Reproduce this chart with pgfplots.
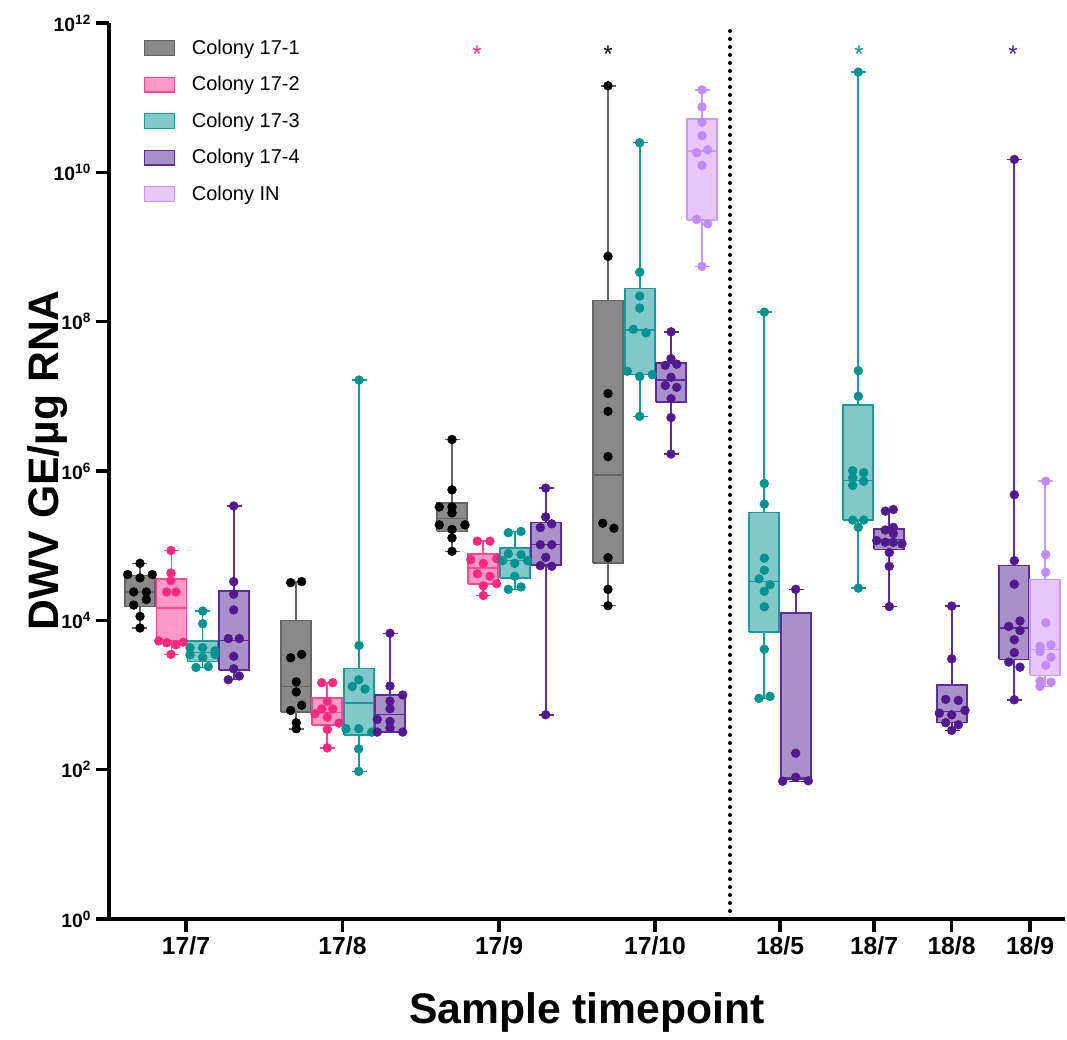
\documentclass[border=0pt]{standalone}
\usepackage{pgfplots}
\pgfplotsset{compat=1.18}
\usepackage{fontspec}
\setmainfont{Liberation Sans}
\definecolor{aF}{HTML}{898989}\definecolor{aE}{HTML}{656565}\definecolor{aP}{HTML}{000000}
\definecolor{bF}{HTML}{FF9AC8}\definecolor{bE}{HTML}{FF4A90}\definecolor{bP}{HTML}{FF2A7F}
\definecolor{cF}{HTML}{82C7C9}\definecolor{cE}{HTML}{1A9A9C}\definecolor{cP}{HTML}{009191}
\definecolor{dF}{HTML}{A890C8}\definecolor{dE}{HTML}{5E2D9C}\definecolor{dP}{HTML}{52198E}
\definecolor{eF}{HTML}{E9C7FD}\definecolor{eE}{HTML}{C89AFA}\definecolor{eP}{HTML}{C38BF9}
\pgfplotsset{legend image code/.code={\draw[#1] (0pt,-5.5pt) rectangle (22.5pt,5.5pt); \path (33pt,0pt);}}
% #1 position, #2 lower whisker, #3 lower quartile, #4 median, #5 upper quartile, #6 upper whisker, #7 fill, #8 edge
\newcommand{\bx}[8]{%
  \pgfmathsetmacro{\bxL}{#1-15}\pgfmathsetmacro{\bxR}{#1+15}%
  \pgfmathsetmacro{\bxCL}{#1-7.5}\pgfmathsetmacro{\bxCR}{#1+7.5}%
  \addplot[forget plot, mark=none, draw=#8, line width=1.1pt] coordinates {(#1,#2)(#1,#3)};
  \addplot[forget plot, mark=none, draw=#8, line width=1.1pt] coordinates {(#1,#5)(#1,#6)};
  \addplot[forget plot, mark=none, draw=#8, line width=1.1pt] coordinates {(\bxCL,#2)(\bxCR,#2)};
  \addplot[forget plot, mark=none, draw=#8, line width=1.1pt] coordinates {(\bxCL,#6)(\bxCR,#6)};
  \addplot[forget plot, mark=none, fill=#7, draw=#8, line width=1.1pt] coordinates {(\bxL,#3)(\bxR,#3)(\bxR,#5)(\bxL,#5)(\bxL,#3)};
  \addplot[forget plot, mark=none, draw=#8, line width=1.1pt] coordinates {(\bxL,#4)(\bxR,#4)};
}
\pgfplotsset{pts/.style={forget plot, only marks, mark=*, mark size=3.3pt, color=#1}}
\begin{document}
\begin{tikzpicture}
\begin{axis}[
  width=717pt, height=672pt, scale only axis,
  xmin=109, xmax=1065, ymin=1, ymax=1e12, ymode=log,
  axis lines=left, axis line style={-, line width=3pt},
  clip=false,
  tick align=outside, major tick length=10pt,
  every tick/.style={line width=2.5pt, black},
  minor tick num=0, yminorticks=false,
  xtick={186,342.5,499,655,780,874,951.5,1030},
  xticklabels={17/7,17/8,17/9,17/10,18/5,18/7,18/8,18/9},
  ytick={1,1e2,1e4,1e6,1e8,1e10,1e12},
  yticklabels={10\textsuperscript{0},10\textsuperscript{2},10\textsuperscript{4},10\textsuperscript{6},10\textsuperscript{8},10\textsuperscript{10},10\textsuperscript{12}},
  xticklabel style={font=\bfseries\fontsize{18.5}{21}\selectfont},
  yticklabel style={font=\bfseries\fontsize{14.5}{17}\selectfont},
  xlabel={Sample timepoint},
  xlabel style={font=\bfseries\fontsize{32}{38}\selectfont, at={(axis description cs:0.5,0)}, anchor=center, yshift=-70pt},
  ylabel={DWV GE/µg RNA},
  ylabel style={font=\bfseries\fontsize{32}{38}\selectfont, at={(axis description cs:-0.064,0.512)}, anchor=center},
  legend style={at={(rel axis cs:0.032,0.9875)}, anchor=north west, draw=none, fill=none,
    font=\fontsize{15}{18}\selectfont, row sep=11pt},
  legend cell align=left,
]
\addlegendimage{fill=aF, draw=aE, line width=1pt}\addlegendentry{Colony 17-1}
\addlegendimage{fill=bF, draw=bE, line width=1pt}\addlegendentry{Colony 17-2}
\addlegendimage{fill=cF, draw=cE, line width=1pt}\addlegendentry{Colony 17-3}
\addlegendimage{fill=dF, draw=dE, line width=1pt}\addlegendentry{Colony 17-4}
\addlegendimage{fill=eF, draw=eE, line width=1pt}\addlegendentry{Colony IN}
\coordinate (O) at (rel axis cs:0,0);
% dotted separator
\draw[line width=3pt, line cap=round, dash pattern=on 0pt off 6pt] (axis cs:730,1) -- (axis cs:730,1e12);
% ---------- 17/7 ----------
\bx{140}{7.9e3}{1.53e4}{2.4e4}{4.0e4}{5.8e4}{aF}{aE}
\addplot[pts=aP] coordinates {(140,5.8e4)(127.7,4.1e4)(152.3,4.1e4)(140,3.7e4)(133.7,2.4e4)(146.3,2.4e4)(146.3,1.9e4)(133.7,1.6e4)(140,1.13e4)(140,7.9e3)};
\bx{171.5}{3.5e3}{5.3e3}{1.47e4}{3.6e4}{8.6e4}{bF}{bE}
\addplot[pts=bP] coordinates {(171,8.6e4)(171,4.3e4)(171,3.4e4)(166.7,2.4e4)(176,2.4e4)(158.7,5.3e3)(166.7,5.0e3)(176,4.7e3)(183.3,5.1e3)(171,3.5e3)};
\bx{202.5}{2.34e3}{2.8e3}{3.7e3}{5.3e3}{1.33e4}{cF}{cE}
\addplot[pts=cP] coordinates {(202.7,1.33e4)(202.7,9.0e3)(190,4.3e3)(202.7,4.3e3)(215,3.9e3)(190,3.45e3)(202.7,3.2e3)(215,3.5e3)(196,2.34e3)(208.3,2.4e3)};
\bx{234}{1.6e3}{2.15e3}{5.4e3}{2.46e4}{3.4e5}{dF}{dE}
\addplot[pts=dP] coordinates {(233.7,3.4e5)(233.7,3.3e4)(233.7,2.24e4)(233.7,1.38e4)(228.3,5.7e3)(239.3,5.7e3)(233.7,3.3e3)(233.7,2.24e3)(228.3,1.6e3)(239.3,1.8e3)};
% ---------- 17/8 ----------
\bx{296}{353}{590}{1.3e3}{1.0e4}{3.3e4}{aF}{aE}
\addplot[pts=aP] coordinates {(290.7,3.2e4)(301.7,3.3e4)(290.7,3.15e3)(301.7,3.5e3)(296.3,1.5e3)(296.3,1.1e3)(290.7,620)(301.7,730)(296.3,425)(296.3,353)};
\bx{327}{196}{395}{585}{918}{1.46e3}{bF}{bE}
\addplot[pts=bP] coordinates {(321.7,1.46e3)(332.7,1.46e3)(327.3,820)(321.7,650)(332.7,650)(315,560)(327.3,506)(339,420)(327.3,346)(327.3,196)};
\bx{359}{95}{290}{787}{2.27e3}{1.65e7}{cF}{cE}
\addplot[pts=cP] coordinates {(359,1.65e7)(359,4.6e3)(358.7,1.6e3)(352.3,1.3e3)(365,1.2e3)(346,353)(358.7,353)(371.7,318)(358.7,190)(358.7,95)};
\bx{390}{319}{319}{550}{1.0e3}{6.7e3}{dF}{dE}
\addplot[pts=dP] coordinates {(390,6.7e3)(390,1.32e3)(402.7,1.0e3)(390,829)(390,654)(377.3,471)(390,443)(390,361)(377.3,319)(402.7,319)};
% ---------- 17/9 ----------
\bx{452}{8.4e4}{1.56e5}{2.3e5}{3.74e5}{2.64e6}{aF}{aE}
\addplot[pts=aP] coordinates {(452,2.64e6)(452,5.6e5)(439.3,3.3e5)(452,3.3e5)(452,2.75e5)(439.3,1.9e5)(465,1.9e5)(452,1.65e5)(452,1.27e5)(452,8.4e4)};
\bx{483}{2.15e4}{3.05e4}{5.0e4}{7.7e4}{1.15e5}{bF}{bE}
\addplot[pts=bP] coordinates {(477.3,1.15e5)(490,1.15e5)(470.7,6.5e4)(483.3,5.8e4)(496.7,6.7e4)(477.3,4.2e4)(490,3.9e4)(496.7,3.1e4)(483.3,2.9e4)(483.3,2.15e4)};
\bx{515}{2.6e4}{3.7e4}{6.3e4}{9.35e4}{1.55e5}{cF}{cE}
\addplot[pts=cP] coordinates {(508.3,1.49e5)(521,1.55e5)(508.3,7.8e4)(521,7.6e4)(502.7,6.3e4)(514.7,5.8e4)(527.7,6.3e4)(514.7,3.9e4)(508.3,2.6e4)(521,2.8e4)};
\bx{546}{543}{5.5e4}{1.03e5}{2.04e5}{5.9e5}{dF}{dE}
\addplot[pts=dP] coordinates {(545.7,5.9e5)(545.7,2.43e5)(551.7,1.96e5)(540.3,1.75e5)(540.3,1.03e5)(551.7,1.03e5)(545.7,7.0e4)(540.3,5.4e4)(551.7,5.3e4)(545.7,543)};
% ---------- 17/10 ----------
\bx{608}{1.57e4}{5.9e4}{8.8e5}{1.92e8}{1.44e11}{aF}{aE}
\addplot[pts=aP] coordinates {(608,1.44e11)(608,7.5e8)(608,1.09e7)(608,6.3e6)(608,1.56e6)(602.7,2.0e5)(614,1.71e5)(608,6.9e4)(608,2.6e4)(608,1.57e4)};
\bx{640}{5.4e6}{1.95e7}{7.7e7}{2.77e8}{2.49e10}{cF}{cE}
\addplot[pts=cP] coordinates {(639.7,2.49e10)(639.7,4.6e8)(639.7,2.2e8)(639.7,1.52e8)(633.3,7.9e7)(646,7.1e7)(627.3,2.17e7)(639.7,1.84e7)(652.3,1.95e7)(639.7,5.4e6)};
\bx{671}{1.69e6}{8.4e6}{1.65e7}{2.8e7}{7.3e7}{dF}{dE}
\addplot[pts=dP] coordinates {(671,7.3e7)(671,3.2e7)(665.3,2.6e7)(676.7,2.7e7)(671,1.8e7)(665.3,1.4e7)(676.7,1.32e7)(671,9.3e6)(671,5.2e6)(671,1.69e6)};
\bx{702}{5.5e8}{2.3e9}{1.93e10}{5.2e10}{1.27e11}{eF}{eE}
\addplot[pts=eP] coordinates {(702,1.27e11)(702,7.5e10)(702,4.7e10)(702,3.1e10)(707.7,2.0e10)(696.7,1.83e10)(702,1.24e10)(696.7,2.34e9)(707.7,2.05e9)(702,5.5e8)};
% ---------- 18/5 ----------
\bx{764}{900}{7.0e3}{3.3e4}{2.77e5}{1.34e8}{cF}{cE}
\addplot[pts=cP] coordinates {(764.3,1.34e8)(764.3,6.8e5)(764.3,3.6e5)(764.3,6.8e4)(764.3,4.7e4)(759,3.6e4)(770,3.0e4)(764.3,2.45e4)(764.3,1.52e4)(764.3,4.1e3)(770,958)(759,900)};
\bx{796}{70}{75}{79}{1.26e4}{2.6e4}{dF}{dE}
\addplot[pts=dP] coordinates {(795.7,2.6e4)(795.7,166)(795.7,79)(782.7,70)(808.3,71)};
% ---------- 18/7 ----------
\bx{858}{2.7e4}{2.2e5}{7.5e5}{7.7e6}{2.2e11}{cF}{cE}
\addplot[pts=cP] coordinates {(858.3,2.2e11)(858.3,2.2e7)(858.3,1.0e7)(852.7,1.01e6)(863.7,9.5e5)(852.7,8.1e5)(863.7,7.3e5)(852.7,6.4e5)(852.7,2.2e5)(863.7,2.2e5)(858.3,1.76e5)(858.3,2.7e4)};
\bx{889}{1.53e4}{8.9e4}{1.2e5}{1.67e5}{3.05e5}{dF}{dE}
\addplot[pts=dP] coordinates {(885.3,2.9e5)(893.3,3.05e5)(893.3,1.76e5)(885.3,1.62e5)(893.3,1.45e5)(876.7,1.17e5)(885.3,1.11e5)(893.3,1.11e5)(902,1.06e5)(889.3,8.1e4)(889.3,5.3e4)(889.3,1.53e4)};
% ---------- 18/8 ----------
\bx{952}{336}{425}{603}{1.37e3}{1.55e4}{dF}{dE}
\addplot[pts=dP] coordinates {(951.7,1.55e4)(951.7,3.05e3)(945.7,873)(958.3,847)(965,622)(939.3,572)(951.7,543)(945.7,425)(958.3,399)(951.7,336)};
% ---------- 18/9 ----------
\bx{1014}{863}{3.0e3}{7.9e3}{5.4e4}{1.49e10}{dF}{dE}
\addplot[pts=dP] coordinates {(1014.3,1.49e10)(1014.3,4.8e5)(1014.3,6.3e4)(1014.3,3.05e4)(1020,9.8e3)(1008.7,8.3e3)(1020,7.3e3)(1014.3,5.5e3)(1014.3,3.7e3)(1008.7,2.76e3)(1020,2.36e3)(1014.3,863)};
\bx{1045}{1.3e3}{1.83e3}{4.1e3}{3.5e4}{7.3e5}{eF}{eE}
\addplot[pts=eP] coordinates {(1045.7,7.3e5)(1045.7,7.6e4)(1045.7,4.4e4)(1045.7,9.3e3)(1051,4.7e3)(1040,4.5e3)(1040,3.8e3)(1051,3.2e3)(1045.7,2.5e3)(1040,1.54e3)(1051,1.49e3)(1040,1.3e3)};
% significance asterisks
\node[text=bP, font=\fontsize{18}{18}\selectfont, anchor=base] at (axis cs:477,3.0e11) {*};
\node[text=aP, font=\fontsize{18}{18}\selectfont, anchor=base] at (axis cs:608,3.0e11) {*};
\node[text=cP, font=\fontsize{18}{18}\selectfont, anchor=base] at (axis cs:859,3.0e11) {*};
\node[text=dP, font=\fontsize{18}{18}\selectfont, anchor=base] at (axis cs:1013,3.0e11) {*};
\end{axis}
\pgfresetboundingbox
\path (O) ++(-81.75pt,-90pt) rectangle ++(800.25pt,779.25pt);
\end{tikzpicture}
\end{document}
